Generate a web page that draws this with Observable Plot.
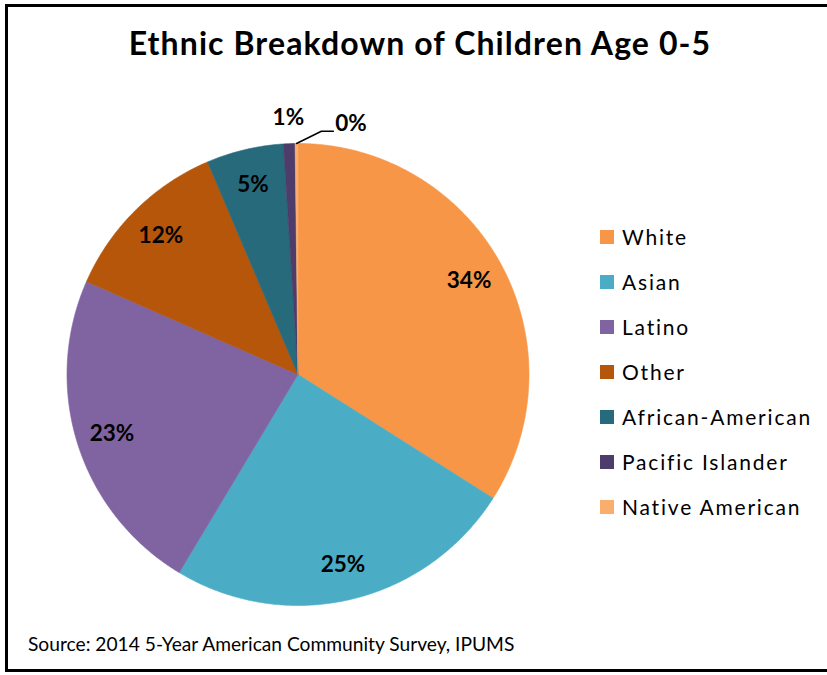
<!DOCTYPE html>
<html>
<head>
<meta charset="utf-8">
<script src="https://cdn.jsdelivr.net/npm/d3@7"></script>
<script src="https://cdn.jsdelivr.net/npm/@observablehq/plot@0.6"></script>
<style>
  html, body { margin: 0; padding: 0; background: #fff; overflow: hidden; }
  body { width: 827px; height: 675px; position: relative; font-family: Lato, "Open Sans", sans-serif; }
  #frame { position: absolute; left: 5px; top: 4px; width: 860px; height: 662px; border: 3px solid #000; box-sizing: content-box; }
  #title { position: absolute; left: 0; width: 840px; top: 27px; text-align: center; font-size: 32px; line-height: 32px; font-weight: 700; color: #000; white-space: nowrap; letter-spacing: 1.1px; }
  #chart { position: absolute; left: 0; top: 0; }
  .legend-item { position: absolute; left: 600px; height: 21px; font-size: 21px; line-height: 21px; color: #000; white-space: nowrap; letter-spacing: 1.8px; }
  .legend-item .sw { position: absolute; left: 0; top: 4px; width: 14px; height: 14px; }
  .legend-item .lb { position: absolute; left: 22px; top: 0; }
  #caption { position: absolute; left: 28px; top: 634px; font-size: 19.2px; line-height: 19px; color: #000; white-space: nowrap; }
</style>
</head>
<body>
<div id="frame"></div>
<div id="title">Ethnic Breakdown of Children Age 0-5</div>
<div id="chart"></div>
<div id="legend"></div>
<div id="caption">Source: 2014 5-Year American Community Survey, IPUMS</div>
<script>
// ---- data ----
const groups = ["White", "Asian", "Latino", "Other", "African-American", "Pacific Islander", "Native American"];
const shares = [34.0, 24.6, 23.0, 12.0, 5.4, 0.8, 0.2];
const colors = ["#F79646", "#4BACC6", "#8064A2", "#B6560A", "#276A7C", "#4E3D6A", "#F9AE6E"];

// ---- derived geometry (unit circle, angle clockwise from 12 o'clock) ----
const total = d3.sum(shares);
let acc = 0;
const slices = groups.map((g, i) => {
  const a0 = acc / total * 2 * Math.PI;
  acc += shares[i];
  const a1 = acc / total * 2 * Math.PI;
  return { name: g, value: shares[i], a0, a1, mid: (a0 + a1) / 2 };
});
const polar = (a, r) => ({ x: r * Math.sin(a), y: r * Math.cos(a) });

const piePoints = [];
for (const s of slices) {
  piePoints.push({ name: s.name, ...polar(0, 0) });
  const n = Math.max(2, Math.ceil((s.a1 - s.a0) / (Math.PI / 360)));
  for (let k = 0; k <= n; k++) {
    const a = s.a0 + (s.a1 - s.a0) * k / n;
    piePoints.push({ name: s.name, ...polar(a, 1) });
  }
  piePoints.push({ name: s.name, ...polar(0, 0) });
}

// leader line for the smallest slice
const last = slices[slices.length - 1];
const elbow = polar(last.mid + 0.102, 1.058);
const leaderEnd = { x: elbow.x + 0.052, y: elbow.y };
const leader = [polar(last.mid, 1.0), elbow, leaderEnd];

// labels: inside for larger slices, outside for tiny ones
const labels = slices.map((s, i) => {
  const text = Math.round(s.value) + "%";
  if (s.value >= 2) return { text, anchor: "middle", ...polar(s.mid, 0.845) };
  if (i === slices.length - 1) return { text, anchor: "start", x: leaderEnd.x + 0.008, y: leaderEnd.y + 0.03 };
  return { text, anchor: "middle", ...polar(s.mid, 1.11) };
});

const chart = Plot.plot({
  width: 827,
  height: 675,
  margin: 0,
  x: { domain: [-1, 1], range: [66.5, 528.5], axis: null },
  y: { domain: [-1, 1], range: [605, 143], axis: null },
  color: { domain: groups, range: colors },
  marks: [
    Plot.line(piePoints, { x: "x", y: "y", z: "name", fill: "name", stroke: "name", strokeWidth: 0.6, curve: "linear" }),
    Plot.line(leader, { x: "x", y: "y", stroke: "#000", strokeWidth: 1.5 }),
    Plot.text(labels.filter(d => d.anchor === "middle"), { x: "x", y: "y", text: "text", fontSize: 22.5, fontWeight: 700, fill: "#000", textAnchor: "middle" }),
    Plot.text(labels.filter(d => d.anchor === "start"), { x: "x", y: "y", text: "text", fontSize: 22.5, fontWeight: 700, fill: "#000", textAnchor: "start" })
  ],
  style: { fontFamily: "Lato, 'Open Sans', sans-serif", background: "transparent", overflow: "visible" }
});
document.getElementById("chart").appendChild(chart);

// ---- legend ----
const legend = document.getElementById("legend");
groups.forEach((g, i) => {
  const item = document.createElement("div");
  item.className = "legend-item";
  item.style.top = (225.5 + i * 45) + "px";
  const sw = document.createElement("div");
  sw.className = "sw";
  sw.style.background = colors[i];
  const lb = document.createElement("div");
  lb.className = "lb";
  lb.textContent = g;
  item.appendChild(sw);
  item.appendChild(lb);
  legend.appendChild(item);
});
</script>
</body>
</html>
